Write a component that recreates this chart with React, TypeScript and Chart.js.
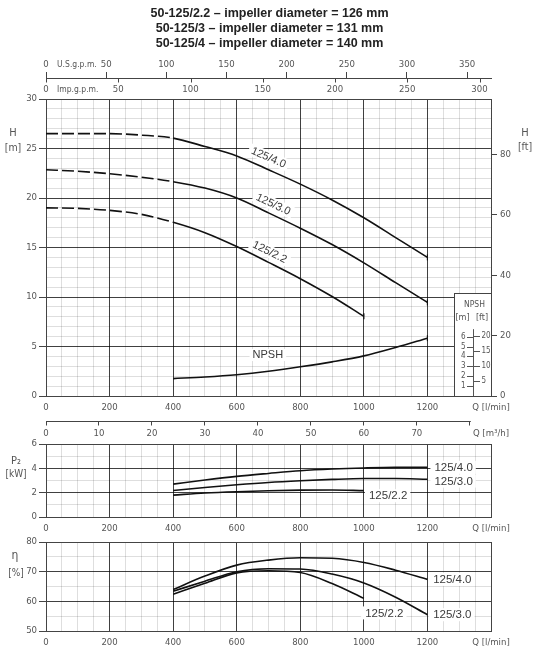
import { useEffect, useRef } from 'react';
import { Chart, registerables } from 'chart.js';

Chart.register(...registerables);

// ---------------- data ----------------
const titleLines = [
  '50-125/2.2 – impeller diameter = 126 mm',
  '50-125/3 – impeller diameter = 131 mm',
  '50-125/4 – impeller diameter = 140 mm',
];
const curveNames = ['125/4.0', '125/3.0', '125/2.2'];

// Head curves (Q in l/min, H in m)
const headFlow = [0, 100, 200, 300, 400, 500, 600, 700, 800, 900, 1000, 1100, 1200];
const head40 = [26.5, 26.5, 26.5, 26.35, 26.05, 25.2, 24.25, 22.85, 21.4, 19.8, 18.0, 16.0, 14.0];
const head30 = [22.85, 22.7, 22.45, 22.1, 21.65, 21.0, 20.0, 18.5, 16.95, 15.3, 13.45, 11.45, 9.45];
const headFlow22 = [0, 100, 200, 300, 400, 500, 600, 700, 800, 900, 1000];
const head22 = [19.0, 18.95, 18.75, 18.35, 17.55, 16.5, 15.1, 13.5, 11.85, 10.05, 8.05];

// NPSH (m)
const npshFlow = [400, 500, 600, 700, 800, 900, 1000, 1100, 1200];
const npshValues = [1.76, 1.92, 2.15, 2.5, 2.95, 3.45, 4.05, 4.9, 5.84];

// Power P2 (kW)
const perfFlow = [400, 500, 600, 700, 800, 900, 1000, 1100, 1200];
const perfFlow22 = [400, 500, 600, 700, 800, 900, 1000];
const power40 = [2.7, 3.04, 3.34, 3.58, 3.8, 3.94, 4.03, 4.08, 4.08];
const power30 = [2.18, 2.43, 2.65, 2.84, 2.98, 3.09, 3.16, 3.16, 3.1];
const power22 = [1.8, 1.97, 2.08, 2.16, 2.21, 2.22, 2.17];

// Efficiency (%)
const eff40 = [64.0, 68.5, 72.2, 73.9, 74.7, 74.5, 73.1, 70.5, 67.4];
const eff30 = [63.4, 66.8, 70.0, 71.0, 70.9, 69.2, 66.2, 61.4, 55.5];
const eff22 = [62.4, 66.1, 69.6, 70.3, 69.7, 66.0, 61.0];

// Tick labels
const flowTicks = [0, 200, 400, 600, 800, 1000, 1200];
const headTicksM = [0, 5, 10, 15, 20, 25, 30];
const headTicksFt = [0, 20, 40, 60, 80];
const usGpmTicks = [0, 50, 100, 150, 200, 250, 300, 350];
const impGpmTicks = [0, 50, 100, 150, 200, 250, 300];
const m3hTicks = [0, 10, 20, 30, 40, 50, 60, 70, 80];
const powerTicks = [0, 2, 4, 6];
const effTicks = [50, 60, 70, 80];
const npshScaleM = [1, 2, 3, 4, 5, 6];
const npshScaleFt = [5, 10, 15, 20];

// ---------------- style ----------------
const FLOW_MAX = 1400;
const M_TO_FT = 3.28084;
const NARROW = "'Liberation Sans Narrow', 'DejaVu Sans Condensed', 'Liberation Sans', sans-serif";
const SANS = "'Liberation Sans', Arial, sans-serif";
const MAJOR = 'rgba(0,0,0,0.75)';
const MINOR = 'rgba(0,0,0,0.13)';
const BORDER = '#444444';
const TEXT = '#555555';
const LABEL = '#3a3a3a';
const CURVE = '#111111';
const tickFont = { family: NARROW, size: 9.5 };

const steps = (a: number, b: number, s: number) => {
  const out: number[] = [];
  for (let i = 0; a + i * s <= b + 1e-9; i++) out.push(a + i * s);
  return out;
};
const interp = (xs: number[], ys: number[], q: number) => {
  for (let i = 0; i < xs.length - 1; i++) {
    if (q >= xs[i] && q <= xs[i + 1]) {
      const t = (q - xs[i]) / (xs[i + 1] - xs[i]);
      return ys[i] + t * (ys[i + 1] - ys[i]);
    }
  }
  return ys[ys.length - 1];
};
const pts = (xs: number[], ys: number[]) => xs.map((x, i) => ({ x, y: ys[i] }));

function curve(label: string, xs: number[], ys: number[], opts: { dashedTo?: number; endMark?: boolean } = {}) {
  const n = xs.length;
  return {
    label,
    data: pts(xs, ys),
    borderColor: CURVE,
    borderWidth: 1.6,
    cubicInterpolationMode: 'monotone',
    fill: false,
    pointStyle: 'line',
    rotation: 90,
    pointRadius: (c: any) => (opts.endMark && c.dataIndex === n - 1 ? 3 : 0),
    pointHoverRadius: 0,
    pointBorderColor: CURVE,
    pointBorderWidth: 1.2,
    segment: opts.dashedTo !== undefined
      ? { borderDash: (c: any) => (c.p1.parsed.x <= (opts.dashedTo as number) ? [12, 4] : undefined) }
      : undefined,
    xAxisID: 'x',
    yAxisID: 'y',
  };
}

function flowAxis(height: number, padding: number) {
  return {
    type: 'linear',
    position: 'bottom',
    weight: 0,
    min: 0,
    max: FLOW_MAX,
    afterBuildTicks: (s: any) => { s.ticks = steps(0, FLOW_MAX, 50).map((value) => ({ value })); },
    afterFit: (s: any) => { s.height = height; },
    ticks: {
      autoSkip: false,
      maxRotation: 0,
      padding,
      font: tickFont,
      color: TEXT,
      callback: (v: any) => (v === FLOW_MAX ? 'Q [l/min]' : flowTicks.includes(v) ? String(v) : ''),
    },
    grid: {
      drawTicks: false,
      color: (c: any) => (c.tick && c.tick.value % 200 === 0 ? MAJOR : MINOR),
    },
    border: { display: true, color: BORDER },
  };
}

function valueAxis(min: number, max: number, minorStep: number, labels: number[], width: number) {
  return {
    type: 'linear',
    position: 'left',
    min,
    max,
    afterBuildTicks: (s: any) => { s.ticks = steps(min, max, minorStep).map((value) => ({ value })); },
    afterFit: (s: any) => { s.width = width; },
    ticks: {
      autoSkip: false,
      padding: 2,
      font: tickFont,
      color: TEXT,
      callback: (v: any) => (labels.includes(v) ? String(v) : ''),
    },
    grid: {
      tickLength: 7,
      color: (c: any) => (c.tick && labels.includes(c.tick.value) ? MAJOR : MINOR),
      tickColor: (c: any) => (c.tick && labels.includes(c.tick.value) ? BORDER : 'rgba(0,0,0,0)'),
    },
    border: { display: true, color: BORDER },
  };
}

function drawFrame(chart: any) {
  const { ctx, chartArea: a } = chart;
  ctx.save();
  ctx.strokeStyle = BORDER;
  ctx.lineWidth = 1;
  ctx.strokeRect(a.left + 0.5, a.top + 0.5, a.right - a.left, a.bottom - a.top);
  ctx.restore();
}

function drawText(ctx: CanvasRenderingContext2D, t: string, x: number, y: number, font: string, align: CanvasTextAlign = 'center', color = TEXT) {
  ctx.font = font;
  ctx.fillStyle = color;
  ctx.textAlign = align;
  ctx.textBaseline = 'middle';
  ctx.fillText(t, x, y);
}

// ---------------- main chart ----------------
function mainConfig(): any {
  const headSets = [
    { name: curveNames[0], xs: headFlow, ys: head40, q: 686, d: 11.5 },
    { name: curveNames[1], xs: headFlow, ys: head30, q: 702, d: 10 },
    { name: curveNames[2], xs: headFlow22, ys: head22, q: 690, d: 10 },
  ];
  const deco = {
    id: 'mainDeco',
    beforeDatasetsDraw(chart: any) {
      const { ctx, chartArea: a, scales } = chart;
      const x = scales.x, y = scales.y;
      drawFrame(chart);
      ctx.save();
      // curve labels along the head curves
      ctx.font = `11px ${SANS}`;
      for (const s of headSets) {
        const px = x.getPixelForValue(s.q);
        const py = y.getPixelForValue(interp(s.xs, s.ys, s.q));
        const x1 = x.getPixelForValue(s.q - 100), y1 = y.getPixelForValue(interp(s.xs, s.ys, s.q - 100));
        const x2 = x.getPixelForValue(s.q + 100), y2 = y.getPixelForValue(interp(s.xs, s.ys, s.q + 100));
        const ang = Math.atan2(y2 - y1, x2 - x1);
        const cx = px + Math.sin(ang) * s.d;
        const cy = py - Math.cos(ang) * s.d;
        const w = ctx.measureText(s.name).width;
        ctx.save();
        ctx.translate(cx, cy);
        ctx.rotate(ang);
        ctx.fillStyle = '#fff';
        ctx.fillRect(-w / 2 - 3, -6, w + 6, 12);
        ctx.fillStyle = LABEL;
        ctx.textAlign = 'center';
        ctx.textBaseline = 'middle';
        ctx.fillText(s.name, 0, 0.5);
        ctx.restore();
      }
      // NPSH label
      {
        const px = x.getPixelForValue(698), py = y.getPixelForValue(4.14);
        ctx.font = `11px ${SANS}`;
        const w = ctx.measureText('NPSH').width;
        ctx.fillStyle = '#fff';
        ctx.fillRect(px - w / 2 - 3, py - 6, w + 6, 12);
        drawText(ctx, 'NPSH', px, py, `11px ${SANS}`, 'center', LABEL);
      }
      // NPSH inset scale
      const bx = Math.round(x.getPixelForValue(1285));
      const by = Math.round(y.getPixelForValue(10.4));
      ctx.fillStyle = '#fff';
      ctx.fillRect(bx, by, a.right - bx, a.bottom - by);
      ctx.strokeStyle = BORDER;
      ctx.lineWidth = 1;
      ctx.strokeRect(bx + 0.5, by + 0.5, a.right - bx, a.bottom - by);
      const cx = (bx + a.right) / 2;
      drawText(ctx, 'NPSH', cx + 2, y.getPixelForValue(9.2), `8.5px ${NARROW}`);
      drawText(ctx, '[m]', cx - 10, y.getPixelForValue(7.9), `9px ${NARROW}`);
      drawText(ctx, '[ft]', cx + 9.5, y.getPixelForValue(7.9), `9px ${NARROW}`);
      const sx = Math.round(x.getPixelForValue(1342)) + 0.5;
      ctx.strokeStyle = '#555';
      ctx.beginPath();
      ctx.moveTo(sx, y.getPixelForValue(6.75));
      ctx.lineTo(sx, a.bottom);
      for (const m of npshScaleM) {
        const py = Math.round(y.getPixelForValue(m)) + 0.5;
        ctx.moveTo(sx - 6.5, py);
        ctx.lineTo(sx, py);
      }
      for (const f of npshScaleFt) {
        const py = Math.round(y.getPixelForValue(f / M_TO_FT)) + 0.5;
        ctx.moveTo(sx, py);
        ctx.lineTo(sx + 6.5, py);
      }
      ctx.stroke();
      for (const m of npshScaleM) drawText(ctx, String(m), sx - 8, y.getPixelForValue(m), `8px ${NARROW}`, 'right');
      for (const f of npshScaleFt) drawText(ctx, String(f), sx + 8, y.getPixelForValue(f / M_TO_FT), `8px ${NARROW}`, 'left');
      ctx.restore();
    },
    afterDraw(chart: any) {
      const { ctx, chartArea: a, scales } = chart;
      ctx.save();
      // Imp.g.p.m. ticks hang below the shared line
      const lineY = Math.round(scales.xus.bottom);
      ctx.strokeStyle = BORDER;
      ctx.lineWidth = 1;
      ctx.beginPath();
      for (const v of impGpmTicks) {
        const px = Math.round(scales.ximp.getPixelForValue(v)) + 0.5;
        ctx.moveTo(px, lineY);
        ctx.lineTo(px, lineY + 4.5);
      }
      // m3/h axis line
      const my = Math.round(scales.xm3.top) + 0.5;
      ctx.moveTo(a.left, my);
      ctx.lineTo(scales.xm3.getPixelForValue(80) + 1, my);
      ctx.stroke();
      drawText(ctx, 'U.S.g.p.m.', a.left + 11, lineY - 13.5, `8.5px ${NARROW}`, 'left');
      drawText(ctx, 'Imp.g.p.m.', a.left + 11, lineY + 12, `8.5px ${NARROW}`, 'left');
      drawText(ctx, 'H', 13, 133, `11px ${NARROW}`);
      drawText(ctx, '[m]', 13, 148, `10.5px ${NARROW}`);
      drawText(ctx, 'H', 525, 133, `11px ${NARROW}`);
      drawText(ctx, '[ft]', 525, 147, `10.5px ${NARROW}`);
      ctx.restore();
    },
  };

  return {
    type: 'line',
    data: {
      datasets: [
        curve(curveNames[0], headFlow, head40, { dashedTo: 400, endMark: true }),
        curve(curveNames[1], headFlow, head30, { dashedTo: 400, endMark: true }),
        curve(curveNames[2], headFlow22, head22, { dashedTo: 400, endMark: true }),
        curve('NPSH', npshFlow, npshValues, { endMark: true }),
      ],
    },
    options: {
      responsive: false,
      animation: false,
      events: [],
      layout: { padding: 0 },
      plugins: {
        legend: { display: false },
        tooltip: { enabled: false },
        title: {
          display: true,
          text: titleLines,
          color: '#222',
          font: { family: SANS, size: 12.5, weight: 'bold', lineHeight: 1.2 },
          padding: { top: 6, bottom: 4 },
        },
      },
      scales: {
        x: flowAxis(25, 6),
        xm3: {
          type: 'linear',
          position: 'bottom',
          weight: 1,
          min: 0,
          max: FLOW_MAX * 0.06,
          afterBuildTicks: (s: any) => { s.ticks = [...m3hTicks, FLOW_MAX * 0.06].map((value) => ({ value })); },
          afterFit: (s: any) => { s.height = 24; },
          ticks: {
            autoSkip: false,
            maxRotation: 0,
            padding: 2,
            font: tickFont,
            color: TEXT,
            callback: (v: any) => (v === FLOW_MAX * 0.06 ? 'Q [m³/h]' : v === 80 ? '' : String(v)),
          },
          grid: {
            drawOnChartArea: false,
            tickLength: 4.5,
            tickColor: (c: any) => (c.tick && c.tick.value > 80 ? 'rgba(0,0,0,0)' : BORDER),
          },
          border: { display: false },
        },
        xus: {
          type: 'linear',
          position: 'top',
          weight: 2,
          min: 0,
          max: FLOW_MAX / 3.78541,
          afterBuildTicks: (s: any) => { s.ticks = usGpmTicks.map((value) => ({ value })); },
          afterFit: (s: any) => { s.height = 23; },
          ticks: { autoSkip: false, maxRotation: 0, padding: 1.5, font: tickFont, color: TEXT, callback: (v: any) => String(v) },
          grid: { drawOnChartArea: false, tickLength: 6, tickColor: BORDER },
          border: { display: true, color: BORDER },
        },
        ximp: {
          type: 'linear',
          position: 'top',
          weight: 1,
          min: 0,
          max: FLOW_MAX / 4.54609,
          afterBuildTicks: (s: any) => { s.ticks = impGpmTicks.map((value) => ({ value })); },
          afterFit: (s: any) => { s.height = 21; },
          ticks: { autoSkip: false, maxRotation: 0, padding: 3.3, font: tickFont, color: TEXT, callback: (v: any) => String(v) },
          grid: { drawOnChartArea: false, drawTicks: false },
          border: { display: true, color: BORDER },
        },
        y: valueAxis(0, 30, 1, headTicksM, 46),
        y2: {
          type: 'linear',
          position: 'right',
          min: 0,
          max: 30 * M_TO_FT,
          afterBuildTicks: (s: any) => { s.ticks = headTicksFt.map((value) => ({ value })); },
          afterFit: (s: any) => { s.width = 48; },
          ticks: { autoSkip: false, padding: 3, font: tickFont, color: TEXT, callback: (v: any) => String(v) },
          grid: { drawOnChartArea: false, tickLength: 6, tickColor: BORDER },
          border: { display: true, color: BORDER },
        },
      },
    },
    plugins: [deco],
  };
}

// ---------------- lower panels ----------------
type PanelLabel = { text: string; q: number; v: number };
function panelConfig(
  id: string,
  sets: { xs: number[]; ys: number[] }[],
  yMin: number,
  yMax: number,
  labels: number[],
  padTop: number,
  xHeight: number,
  curveLabels: PanelLabel[],
  titles: { t: string; x: number; y: number; size: number }[],
): any {
  const deco = {
    id,
    beforeDatasetsDraw(chart: any) {
      const { ctx, scales } = chart;
      drawFrame(chart);
      ctx.save();
      for (const l of curveLabels) {
        const px = scales.x.getPixelForValue(l.q);
        const py = scales.y.getPixelForValue(l.v);
        ctx.font = `11.5px ${SANS}`;
        const w = ctx.measureText(l.text).width;
        ctx.fillStyle = '#fff';
        ctx.fillRect(px - 4, py - 6.5, w + 7, 13);
        drawText(ctx, l.text, px, py + 0.5, `11.5px ${SANS}`, 'left', LABEL);
      }
      ctx.restore();
    },
    afterDraw(chart: any) {
      const { ctx } = chart;
      ctx.save();
      for (const t of titles) drawText(ctx, t.t, t.x, t.y, `${t.size}px ${NARROW}`);
      ctx.restore();
    },
  };
  return {
    type: 'line',
    data: { datasets: sets.map((s, i) => curve(curveNames[i], s.xs, s.ys)) },
    options: {
      responsive: false,
      animation: false,
      events: [],
      layout: { padding: { top: padTop, right: 48, left: 0, bottom: 0 } },
      plugins: { legend: { display: false }, tooltip: { enabled: false } },
      scales: {
        x: flowAxis(xHeight, 6),
        y: valueAxis(yMin, yMax, yMin === 0 ? 1 : 5, labels, 46),
      },
    },
    plugins: [deco],
  };
}

export default function App() {
  const mainRef = useRef<HTMLCanvasElement>(null);
  const powerRef = useRef<HTMLCanvasElement>(null);
  const effRef = useRef<HTMLCanvasElement>(null);

  useEffect(() => {
    Chart.defaults.font.family = NARROW;
    const charts = [
      new Chart(mainRef.current as HTMLCanvasElement, mainConfig()),
      new Chart(
        powerRef.current as HTMLCanvasElement,
        panelConfig(
          'powerDeco',
          [
            { xs: perfFlow, ys: power40 },
            { xs: perfFlow, ys: power30 },
            { xs: perfFlow22, ys: power22 },
          ],
          0, 6, powerTicks, 14, 18,
          [
            { text: curveNames[0], q: 1222, v: 4.08 },
            { text: curveNames[1], q: 1222, v: 2.95 },
            { text: curveNames[2], q: 1016, v: 1.75 },
          ],
          [
            { t: 'P₂', x: 16, y: 31, size: 11 },
            { t: '[kW]', x: 16, y: 44, size: 10 },
          ],
        ),
      ),
      new Chart(
        effRef.current as HTMLCanvasElement,
        panelConfig(
          'effDeco',
          [
            { xs: perfFlow, ys: eff40 },
            { xs: perfFlow, ys: eff30 },
            { xs: perfFlow22, ys: eff22 },
          ],
          50, 80, effTicks, 12, 30,
          [
            { text: curveNames[0], q: 1218, v: 67.4 },
            { text: curveNames[1], q: 1218, v: 55.5 },
            { text: curveNames[2], q: 1004, v: 56.1 },
          ],
          [
            { t: 'η', x: 15, y: 26, size: 12 },
            { t: '[%]', x: 16, y: 43, size: 10 },
          ],
        ),
      ),
    ];
    return () => charts.forEach((c) => c.destroy());
  }, []);

  return (
    <div style={{ position: 'absolute', left: 0, top: 0, width: 539, height: 661, background: '#fff' }}>
      <canvas ref={mainRef} width={539} height={445} style={{ position: 'absolute', left: 0, top: 0 }} />
      <canvas ref={powerRef} width={539} height={105} style={{ position: 'absolute', left: 0, top: 430 }} />
      <canvas ref={effRef} width={539} height={131} style={{ position: 'absolute', left: 0, top: 530 }} />
    </div>
  );
}
